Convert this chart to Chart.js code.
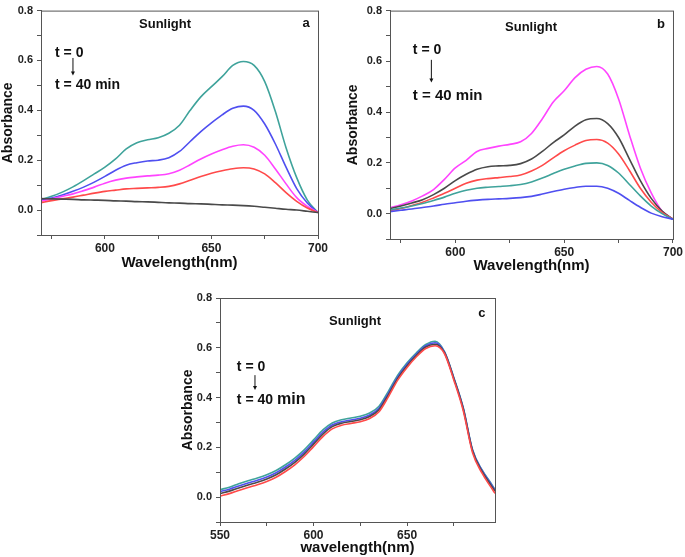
<!DOCTYPE html>
<html>
<head>
<meta charset="utf-8">
<script src="https://cdn.jsdelivr.net/npm/chart.js@4"></script>
<style>
  body { margin: 0; background: #fff; }
  #wrap { position: relative; width: 685px; height: 557px; overflow: hidden; }
  canvas { position: absolute; }
</style>
</head>
<body>
<div id="wrap">
  <canvas id="pa" width="340" height="278" style="left:0;top:0"></canvas>
  <canvas id="pb" width="340" height="278" style="left:345px;top:0"></canvas>
  <canvas id="pc" width="335" height="277" style="left:180px;top:280px"></canvas>
</div>
<script>
// ---- data ----
const WL_AB = [570, 575, 580, 585, 590, 595, 600, 605, 610, 615, 620, 625, 630, 635,
  640, 645, 650, 655, 660, 665, 670, 675, 680, 685, 690, 695, 700];

// panel a
const A_TEAL = [0.042, 0.055, 0.072, 0.093, 0.118, 0.145, 0.172, 0.205, 0.245, 0.270, 0.282, 0.290, 0.308, 0.340,
  0.400, 0.454, 0.495, 0.535, 0.580, 0.596, 0.580, 0.515, 0.395, 0.250, 0.130, 0.040, -0.010];
const A_BLUE = [0.040, 0.048, 0.060, 0.075, 0.092, 0.112, 0.135, 0.160, 0.180, 0.190, 0.197, 0.200, 0.210, 0.235,
  0.275, 0.315, 0.350, 0.382, 0.408, 0.417, 0.400, 0.345, 0.265, 0.172, 0.086, 0.028, -0.010];
const A_MAGENTA = [0.035, 0.045, 0.055, 0.065, 0.078, 0.092, 0.108, 0.120, 0.128, 0.133, 0.137, 0.140, 0.146, 0.160,
  0.182, 0.205, 0.225, 0.242, 0.256, 0.262, 0.252, 0.220, 0.165, 0.105, 0.050, 0.015, -0.010];
const A_RED = [0.030, 0.038, 0.045, 0.052, 0.060, 0.068, 0.075, 0.080, 0.085, 0.087, 0.089, 0.091, 0.095, 0.105,
  0.120, 0.135, 0.148, 0.158, 0.166, 0.170, 0.165, 0.145, 0.110, 0.070, 0.035, 0.008, -0.010];
const A_GRAY = [0.046, 0.045, 0.044, 0.043, 0.041, 0.040, 0.039, 0.037, 0.036, 0.034, 0.033, 0.031, 0.029, 0.028,
  0.026, 0.025, 0.023, 0.021, 0.020, 0.018, 0.015, 0.011, 0.007, 0.003, 0.000, -0.005, -0.010];

// panel b
const B_MAGENTA = [0.023, 0.035, 0.050, 0.070, 0.095, 0.135, 0.180, 0.210, 0.245, 0.257, 0.266, 0.273, 0.283, 0.316,
  0.374, 0.440, 0.484, 0.536, 0.569, 0.580, 0.550, 0.452, 0.310, 0.180, 0.082, 0.010, -0.022];
const B_GRAY = [0.020, 0.030, 0.042, 0.055, 0.075, 0.100, 0.130, 0.155, 0.175, 0.185, 0.188, 0.190, 0.197, 0.215,
  0.245, 0.280, 0.310, 0.345, 0.370, 0.375, 0.355, 0.300, 0.215, 0.130, 0.060, 0.010, -0.022];
const B_RED = [0.012, 0.020, 0.032, 0.045, 0.062, 0.080, 0.100, 0.120, 0.132, 0.138, 0.142, 0.146, 0.152, 0.168,
  0.190, 0.220, 0.248, 0.270, 0.288, 0.292, 0.278, 0.235, 0.170, 0.100, 0.045, 0.005, -0.022];
const B_TEAL = [0.015, 0.022, 0.030, 0.040, 0.052, 0.065, 0.080, 0.092, 0.100, 0.104, 0.107, 0.110, 0.115, 0.125,
  0.140, 0.158, 0.175, 0.188, 0.198, 0.200, 0.190, 0.160, 0.115, 0.070, 0.030, 0.000, -0.022];
const B_BLUE = [0.008, 0.013, 0.018, 0.024, 0.030, 0.037, 0.043, 0.049, 0.053, 0.056, 0.058, 0.060, 0.063, 0.068,
  0.077, 0.087, 0.096, 0.103, 0.108, 0.108, 0.100, 0.080, 0.052, 0.025, 0.002, -0.012, -0.022];

// panel c
const WL_C = [550, 555, 560, 565, 570, 575, 580, 585, 590, 595, 600, 605, 610, 615, 620, 625, 630, 635,
  640, 645, 650, 655, 660, 665, 670, 675, 680, 685, 690, 695, 697];
const C_TEAL = [0.030, 0.040, 0.054, 0.066, 0.077, 0.090, 0.107, 0.130, 0.157, 0.190, 0.230, 0.270, 0.298, 0.311, 0.318, 0.325, 0.338, 0.365,
  0.425, 0.490, 0.540, 0.580, 0.613, 0.626, 0.585, 0.480, 0.360, 0.190, 0.110, 0.054, 0.030];
const C_BLUE = [0.022, 0.032, 0.045, 0.057, 0.068, 0.081, 0.098, 0.121, 0.148, 0.181, 0.221, 0.261, 0.290, 0.303, 0.310, 0.317, 0.330, 0.357,
  0.417, 0.483, 0.534, 0.575, 0.608, 0.620, 0.583, 0.478, 0.358, 0.188, 0.108, 0.051, 0.028];
const C_BLACK = [0.014, 0.024, 0.037, 0.049, 0.060, 0.073, 0.090, 0.113, 0.140, 0.173, 0.213, 0.253, 0.283, 0.297, 0.304, 0.311, 0.324, 0.351,
  0.411, 0.477, 0.528, 0.570, 0.603, 0.614, 0.580, 0.476, 0.355, 0.185, 0.104, 0.046, 0.024];
const C_RED = [0.004, 0.014, 0.027, 0.039, 0.050, 0.063, 0.080, 0.103, 0.130, 0.163, 0.203, 0.243, 0.274, 0.289, 0.296, 0.303, 0.316, 0.343,
  0.403, 0.470, 0.521, 0.564, 0.597, 0.608, 0.576, 0.470, 0.348, 0.178, 0.097, 0.038, 0.015];

const X_TICKS_AB = [575, 600, 625, 650, 675, 700];
const X_TICKS_C = [550, 575, 600, 625, 650, 675];
const X_LABELED = [550, 600, 650, 700];
const Y_TICKS = [-0.1, 0, 0.1, 0.2, 0.3, 0.4, 0.5, 0.6, 0.7, 0.8];
const Y_LABELED = [0, 0.2, 0.4, 0.6, 0.8];

const TEAL = "#3fa39b", BLUE = "#4f4ff0", MAGENTA = "#ff44ff", RED = "#ff4a4a", GRAY = "#4a4a4a";
const FONT = "'Liberation Sans', Arial, sans-serif";
const AXIS = "#555";

// frame around the plot + text notes placed in data units
const framePlugin = {
  id: "frame",
  afterDraw(chart) {
    const { ctx, chartArea: a, scales } = chart;
    ctx.save();
    ctx.strokeStyle = AXIS;
    ctx.lineWidth = 1;
    ctx.strokeRect(a.left + 0.5, a.top + 0.5, a.right - a.left, a.bottom - a.top);
    const notes = chart.options.plugins.notes || [];
    ctx.fillStyle = "#111";
    ctx.textBaseline = "middle";
    notes.forEach((n) => {
      const x = scales.x.getPixelForValue(n.x);
      const y = scales.y.getPixelForValue(n.y);
      if (n.arrowTo !== undefined) {
        const y2 = scales.y.getPixelForValue(n.arrowTo);
        ctx.strokeStyle = "#111";
        ctx.beginPath();
        ctx.moveTo(x, y);
        ctx.lineTo(x, y2 - 3);
        ctx.stroke();
        ctx.beginPath();
        ctx.moveTo(x - 2, y2 - 4);
        ctx.lineTo(x + 2, y2 - 4);
        ctx.lineTo(x, y2);
        ctx.closePath();
        ctx.fill();
        return;
      }
      ctx.font = n.font;
      ctx.textAlign = n.align || "left";
      ctx.fillText(n.text, x, y);
    });
    ctx.restore();
  },
};

function line(data, color) {
  return { data, borderColor: color, borderWidth: 1.6, pointRadius: 0, cubicInterpolationMode: "monotone", fill: false };
}

function makePanel(id, opts) {
  const xs = opts.wl;
  new Chart(document.getElementById(id), {
    type: "line",
    data: {
      labels: xs,
      datasets: opts.series.map(([vals, c]) => line(xs.map((w, i) => ({ x: w, y: vals[i] })), c)),
    },
    options: {
      responsive: false,
      animation: false,
      layout: { padding: opts.padding },
      plugins: { legend: { display: false }, tooltip: { enabled: false }, notes: opts.notes },
      scales: {
        x: {
          type: "linear",
          min: opts.xMin,
          max: opts.xMax,
          afterBuildTicks: (s) => { s.ticks = opts.xTicks.map((v) => ({ value: v })); },
          afterFit: (s) => { s.height = opts.xHeight; },
          ticks: {
            autoSkip: false,
            maxRotation: 0,
            padding: 2,
            color: "#222",
            font: { family: FONT, size: 12, weight: "bold" },
            callback: (v) => (X_LABELED.includes(v) ? String(v) : ""),
          },
          grid: { drawOnChartArea: false, drawTicks: true, tickLength: 4, color: AXIS },
          border: { display: true, color: AXIS },
          title: {
            display: true,
            text: opts.xTitle,
            color: "#111",
            padding: { top: 0, bottom: opts.titleLift },
            font: { family: FONT, size: 15, weight: "bold" },
          },
        },
        y: {
          min: -0.1,
          max: 0.8,
          afterBuildTicks: (s) => { s.ticks = Y_TICKS.map((v) => ({ value: v })); },
          afterFit: (s) => { s.width = opts.yWidth; },
          ticks: {
            autoSkip: false,
            padding: 4,
            color: "#222",
            font: { family: FONT, size: 11, weight: "bold" },
            callback: (v) => (Y_LABELED.some((l) => Math.abs(l - v) < 1e-6) ? v.toFixed(1) : ""),
          },
          grid: { drawOnChartArea: false, drawTicks: true, tickLength: 4, color: AXIS },
          border: { display: true, color: AXIS },
          title: {
            display: true,
            text: "Absorbance",
            color: "#111",
            padding: { top: 0, bottom: 0 },
            font: { family: FONT, size: 14, weight: "bold" },
          },
        },
      },
    },
    plugins: [framePlugin],
  });
}

const F_LABEL = "bold 13px " + FONT;
const F_T = "bold 14px " + FONT;
const F_TB = "bold 15px " + FONT;

makePanel("pa", {
  wl: WL_AB, xMin: 570, xMax: 700, xTicks: X_TICKS_AB, xTitle: "Wavelength(nm)",
  padding: { left: 0, top: 7, right: 22, bottom: 0 }, yWidth: 41, xHeight: 43, titleLift: 6,
  series: [[A_GRAY, GRAY], [A_RED, RED], [A_MAGENTA, MAGENTA], [A_BLUE, BLUE], [A_TEAL, TEAL]],
  notes: [
    { x: 628.2, y: 0.745, text: "Sunlight", font: F_LABEL, align: "center" },
    { x: 694.4, y: 0.749, text: "a", font: F_LABEL, align: "center" },
    { x: 576.6, y: 0.63, text: "t = 0", font: F_T },
    { x: 585, y: 0.61, arrowTo: 0.54 },
    { x: 576.6, y: 0.50, text: "t = 40 min", font: F_T },
  ],
});

makePanel("pb", {
  wl: WL_AB, xMin: 570, xMax: 700, xTicks: X_TICKS_AB, xTitle: "Wavelength(nm)",
  padding: { left: 0, top: 7, right: 10, bottom: 0 }, yWidth: 45, xHeight: 39, titleLift: 3,
  series: [[B_BLUE, BLUE], [B_TEAL, TEAL], [B_RED, RED], [B_GRAY, GRAY], [B_MAGENTA, MAGENTA]],
  notes: [
    { x: 634.8, y: 0.734, text: "Sunlight", font: F_LABEL, align: "center" },
    { x: 694.5, y: 0.746, text: "b", font: F_LABEL, align: "center" },
    { x: 580.5, y: 0.645, text: "t = 0", font: F_T },
    { x: 589, y: 0.606, arrowTo: 0.517 },
    { x: 580.5, y: 0.466, text: "t = 40 min", font: F_TB },
  ],
});

makePanel("pc", {
  wl: WL_C, xMin: 550, xMax: 697, xTicks: X_TICKS_C, xTitle: "wavelength(nm)",
  padding: { left: 0, top: 18, right: 20, bottom: 0 }, yWidth: 40, xHeight: 35, titleLift: 0,
  series: [[C_RED, RED], [C_BLACK, GRAY], [C_BLUE, BLUE], [C_TEAL, TEAL]],
  notes: [
    { x: 622.2, y: 0.704, text: "Sunlight", font: F_LABEL, align: "center" },
    { x: 690, y: 0.74, text: "c", font: F_LABEL, align: "center" },
    { x: 559, y: 0.523, text: "t = 0", font: F_T },
    { x: 568.7, y: 0.49, arrowTo: 0.43 },
    { x: 559, y: 0.39, text: "t = 40", font: F_T },
    { x: 580.5, y: 0.39, text: "min", font: "bold 16px " + FONT },
  ],
});
</script>
</body>
</html>
